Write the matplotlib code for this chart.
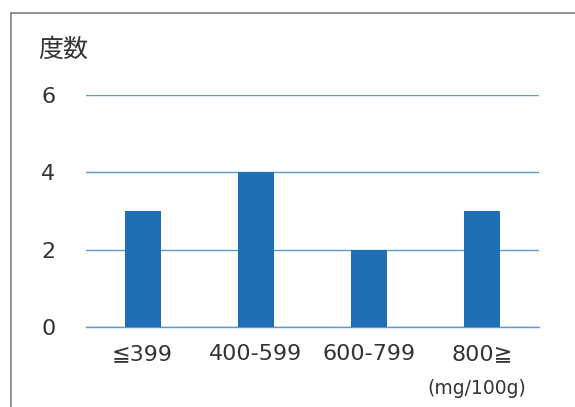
import matplotlib
matplotlib.use('Agg')
import matplotlib.pyplot as plt
from matplotlib.lines import Line2D

plt.rcParams['font.family'] = ['DejaVu Sans', 'Noto Sans CJK JP']

# データ
categories = ['≦399', '400-599', '600-799', '800≧']
counts = [3, 4, 2, 3]
yticks = [0, 2, 4, 6]

W, H = 575, 407
fig = plt.figure(figsize=(W / 100, H / 100), dpi=100)
ax = fig.add_axes([86 / W, 1 - 327 / H, (539 - 86) / W, (327 - 95) / H])

bar_color = '#1f6fb5'
grid_color = '#5b9bd5'
text_color = '#333333'

x = list(range(len(categories)))
ax.bar(x, counts, width=0.32, color=bar_color, zorder=3)

ax.set_xlim(-0.5, 3.5)
ax.set_ylim(0, 6)
ax.set_yticks(yticks)
ax.set_yticklabels([str(v) for v in yticks])
ax.set_xticks(x)
ax.set_xticklabels(categories)
ax.yaxis.grid(True, color=grid_color, linewidth=1.0, zorder=0)
ax.set_axisbelow(True)

for s in ['top', 'right', 'left']:
    ax.spines[s].set_visible(False)
ax.spines['bottom'].set_color(grid_color)
ax.spines['bottom'].set_linewidth(1.0)

ax.tick_params(axis='y', length=0, pad=22, labelsize=16, colors=text_color)
ax.tick_params(axis='x', length=0, pad=12, labelsize=16, colors=text_color)

fig.text(38 / W, 1 - 50 / H, '度数', fontsize=18, ha='left', va='center', color=text_color,
         family=['Noto Sans CJK JP', 'DejaVu Sans'])
fig.text(477 / W, 1 - 388 / H, '(mg/100g)', fontsize=13.5, ha='center', va='center', color=text_color)

# 外枠
fig.add_artist(Line2D([10.5 / W, 10.5 / W], [0, 1 - 12.5 / H], transform=fig.transFigure, color='#808080', linewidth=1.2))
fig.add_artist(Line2D([10.5 / W, 1], [1 - 12.5 / H, 1 - 12.5 / H], transform=fig.transFigure, color='#808080', linewidth=1.2))

fig.savefig('out.png', dpi=100)
